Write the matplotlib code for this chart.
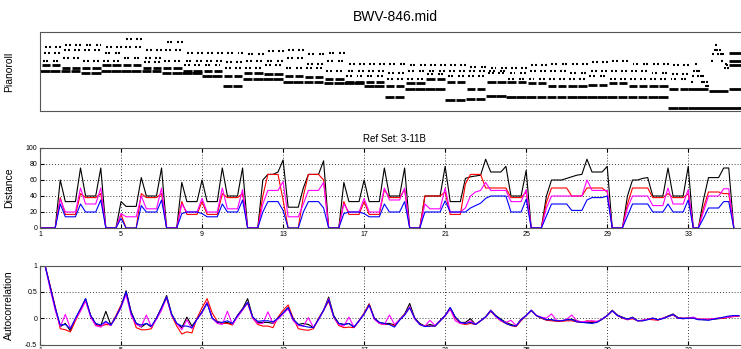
import matplotlib.pyplot as plt
import numpy as np

plt.rcParams['font.family'] = ['Liberation Sans', 'DejaVu Sans']

file_title = 'BWV-846.mid'
ref_title = 'Ref Set: 3-11B'

# five-note chord of each bar 1-32 (MIDI pitch), played as the broken-chord figure
chords = [
    [48, 52, 55, 60, 64], [48, 50, 57, 62, 65], [47, 50, 55, 62, 65], [48, 52, 55, 60, 64],
    [48, 52, 57, 64, 69], [48, 50, 54, 57, 62], [47, 50, 55, 62, 67], [47, 48, 52, 55, 60],
    [45, 48, 52, 55, 60], [38, 45, 50, 54, 60], [43, 47, 50, 55, 59], [43, 46, 52, 55, 61],
    [41, 45, 50, 57, 62], [41, 44, 50, 53, 59], [40, 43, 48, 55, 60], [40, 41, 45, 48, 53],
    [38, 41, 45, 48, 53], [31, 38, 43, 47, 53], [36, 40, 43, 48, 52], [36, 43, 46, 48, 52],
    [29, 41, 45, 48, 52], [30, 36, 45, 48, 51], [32, 41, 47, 48, 50], [31, 41, 43, 47, 50],
    [31, 40, 43, 48, 52], [31, 38, 43, 48, 53], [31, 38, 43, 47, 53], [31, 39, 45, 48, 54],
    [31, 40, 43, 48, 55], [31, 38, 43, 48, 53], [31, 38, 43, 47, 53], [24, 36, 43, 46, 52],
]
# closing bars: held notes (pitch, on, off) and the sixteenth runs of bars 33 and 34
coda_held = [(24, 33.0, 36.0), (36, 33.0, 34.0), (35, 34.0, 35.0),
             (36, 35.0, 36.0), (52, 35.0, 36.0), (55, 35.0, 36.0), (60, 35.0, 36.0)]
run_33 = [41, 45, 48, 53, 48, 45, 48, 45, 41, 45, 41, 38, 41, 38]
run_34 = [55, 59, 62, 65, 62, 59, 62, 59, 55, 59, 50, 53, 52, 50]

# distance to the reference set, one value per beat (bars 1 .. 35.25)
dist_black = [
    0, 0, 0, 0,   60, 33, 33, 33,   75, 40, 40, 40,   75, 0, 0, 0,
    33, 27, 27, 27,   63, 40, 40, 40,   75, 0, 0, 0,   57, 33, 33, 33,
    60, 33, 33, 33,   75, 40, 40, 40,   75, 0, 0, 0,   60, 67, 67, 70,
    85, 26, 26, 26,   50, 67, 67, 67,   84, 0, 0, 0,   57, 33, 33, 33,
    60, 33, 33, 33,   75, 40, 40, 40,   75, 0, 0, 0,   40, 40, 40, 40,
    77, 33, 33, 33,   62, 64, 65, 66,   86, 70, 70, 70,   77, 40, 40, 40,
    72, 0, 0, 0,   40, 60, 60, 60,   62, 64, 66, 67,   86, 70, 70, 70,
    77, 0, 0, 0,   40, 60, 60, 62,   63, 40, 40, 40,   75, 40, 40, 40,
    77, 0, 0, 35,   63, 63, 63, 75,   75, 0,
]
dist_red = [
    0, 0, 0, 0,   38, 17, 17, 17,   43, 38, 38, 38,   43, 0, 0, 0,
    17, 0, 0, 0,   43, 38, 38, 38,   43, 0, 0, 0,   33, 17, 17, 17,
    33, 17, 17, 17,   43, 38, 38, 38,   43, 0, 0, 0,   40, 67, 67, 67,
    35, 0, 0, 0,   40, 67, 67, 67,   60, 0, 0, 0,   33, 17, 17, 17,
    33, 17, 17, 17,   48, 38, 38, 38,   48, 0, 0, 0,   40, 40, 40, 40,
    45, 17, 17, 17,   55, 67, 67, 67,   50, 50, 50, 50,   50, 38, 38, 38,
    45, 0, 0, 0,   32, 50, 50, 50,   50, 40, 40, 40,   50, 50, 50, 50,
    45, 0, 0, 0,   30, 50, 50, 50,   50, 38, 38, 38,   43, 38, 38, 38,
    43, 0, 0, 25,   45, 45, 45, 43,   43, 0,
]
dist_magenta = [
    0, 0, 0, 0,   36, 20, 20, 20,   50, 30, 30, 30,   50, 0, 0, 0,
    18, 14, 14, 14,   40, 24, 24, 24,   50, 0, 0, 0,   30, 20, 20, 20,
    37, 20, 20, 20,   50, 24, 24, 24,   48, 0, 0, 0,   30, 47, 47, 47,
    58, 14, 14, 14,   30, 47, 47, 47,   57, 0, 0, 0,   30, 20, 20, 20,
    37, 20, 20, 20,   50, 35, 35, 35,   50, 0, 0, 0,   30, 24, 24, 24,
    50, 20, 20, 20,   25, 40, 45, 47,   57, 47, 47, 47,   47, 33, 33, 33,
    48, 0, 0, 0,   25, 40, 40, 40,   40, 40, 40, 40,   60, 47, 47, 47,
    47, 0, 0, 0,   25, 40, 40, 40,   40, 28, 28, 28,   50, 30, 30, 30,
    48, 0, 0, 20,   40, 40, 40, 49,   49, 0,
]
dist_blue = [
    0, 0, 0, 0,   30, 14, 14, 14,   30, 20, 20, 20,   35, 0, 0, 0,
    12, 0, 0, 0,   28, 20, 20, 20,   35, 0, 0, 0,   18, 20, 20, 20,
    18, 14, 14, 14,   30, 20, 20, 20,   35, 0, 0, 0,   20, 33, 33, 33,
    22, 0, 0, 0,   20, 33, 33, 33,   25, 0, 0, 0,   18, 20, 20, 20,
    18, 14, 14, 14,   30, 20, 20, 20,   33, 0, 0, 0,   20, 20, 20, 20,
    34, 20, 20, 20,   20, 25, 28, 31,   37, 40, 40, 40,   40, 20, 20, 20,
    36, 0, 0, 0,   15, 30, 30, 30,   30, 22, 22, 22,   35, 38, 38, 38,
    40, 0, 0, 0,   15, 30, 30, 30,   30, 20, 20, 20,   30, 20, 20, 20,
    35, 0, 0, 12,   25, 25, 25, 33,   33, 0,
]

# autocorrelation of each distance curve, lag 0 drawn at bar 1.25
acf_black = [
    1.0, 0.6, 0.2, -0.16,   -0.10, -0.24, -0.02, 0.17,   0.37, 0.05, -0.12, -0.14,
    0.13, -0.13, 0.02, 0.22,   0.52, 0.12, -0.10, -0.17,   -0.10, -0.17, 0.0, 0.2,
    0.43, 0.08, -0.10, -0.18,   0.02, -0.15, -0.02, 0.12,   0.30, 0.0, -0.08, -0.10,
    -0.08, -0.12, 0.05, 0.18,   0.37, 0.02, -0.08, -0.08,   -0.08, -0.10, 0.0, 0.10,
    0.20, -0.02, -0.12, -0.10,   -0.12, -0.18, -0.02, 0.15,   0.40, 0.05, -0.10, -0.12,
    -0.10, -0.17, -0.05, 0.08,   0.27, 0.0, -0.08, -0.10,   -0.10, -0.13, -0.03, 0.08,
    0.28, 0.0, -0.10, -0.15,   -0.12, -0.15, -0.05, 0.05,   0.20, 0.02, -0.08, -0.08,
    -0.01, -0.12, -0.05, 0.03,   0.15, 0.05, -0.02, -0.08,   -0.12, -0.15, -0.02, 0.05,
    0.15, 0.05, 0.0, -0.03,   -0.03, -0.05, -0.05, -0.03,   -0.02, -0.05, -0.08, -0.08,
    -0.08, -0.07, -0.02, 0.05,   0.15, 0.06, 0.02, -0.02,   0.02, -0.05, -0.04, -0.02,
    0.0, -0.03, 0.0, 0.04,   0.08, 0.01, 0.0, 0.0,   0.01, -0.02, -0.03, -0.03,
    -0.02, -0.01, 0.0, 0.02,   0.04, 0.04,
]
acf_red = [
    1.0, 0.62, 0.22, -0.20,   -0.22, -0.26, -0.05, 0.15,   0.33, 0.05, -0.14, -0.15,
    -0.12, -0.13, 0.05, 0.25,   0.47, 0.10, -0.18, -0.22,   -0.22, -0.20, 0.0, 0.20,
    0.38, 0.05, -0.15, -0.30,   -0.26, -0.28, 0.0, 0.20,   0.37, 0.10, -0.06, -0.10,
    -0.10, -0.13, 0.05, 0.18,   0.28, 0.0, -0.12, -0.15,   -0.15, -0.18, 0.02, 0.15,
    0.25, 0.0, -0.20, -0.22,   -0.23, -0.20, 0.0, 0.15,   0.32, 0.02, -0.14, -0.18,
    -0.17, -0.18, -0.05, 0.10,   0.27, 0.0, -0.10, -0.12,   -0.12, -0.14, -0.03, 0.07,
    0.20, 0.0, -0.12, -0.15,   -0.15, -0.15, -0.05, 0.05,   0.18, 0.0, -0.10, -0.12,
    -0.10, -0.12, -0.05, 0.02,   0.13, 0.03, -0.05, -0.10,   -0.14, -0.16, -0.05, 0.05,
    0.14, 0.05, 0.0, -0.04,   -0.05, -0.06, -0.06, -0.05,   -0.05, -0.07, -0.08, -0.05,
    -0.06, -0.07, -0.02, 0.05,   0.14, 0.05, 0.0, -0.03,   -0.01, -0.05, -0.05, -0.02,
    -0.03, -0.04, 0.0, 0.03,   0.06, 0.0, -0.01, 0.0,   0.0, -0.02, -0.02, -0.02,
    -0.01, 0.0, 0.0, 0.02,   0.03, 0.04,
]
acf_magenta = [
    1.0, 0.55, 0.15, -0.16,   0.07, -0.19, -0.02, 0.13,   0.33, 0.02, -0.14, -0.17,
    -0.08, -0.14, 0.02, 0.20,   0.45, 0.05, -0.12, -0.16,   0.06, -0.17, -0.02, 0.15,
    0.40, 0.05, -0.10, -0.22,   -0.03, -0.20, -0.02, 0.10,   0.30, 0.0, -0.10, -0.12,
    0.13, -0.12, 0.02, 0.15,   0.30, 0.0, -0.10, -0.10,   0.12, -0.10, -0.02, 0.08,
    0.18, -0.05, -0.14, -0.15,   0.01, -0.18, -0.03, 0.15,   0.37, 0.02, -0.12, -0.15,
    0.02, -0.17, -0.05, 0.08,   0.24, -0.02, -0.10, -0.12,   0.06, -0.12, -0.03, 0.06,
    0.22, -0.02, -0.12, -0.15,   -0.04, -0.14, -0.05, 0.04,   0.17, -0.05, -0.10, -0.10,
    -0.05, -0.12, -0.05, 0.02,   0.15, 0.03, -0.05, -0.08,   -0.04, -0.14, -0.03, 0.05,
    0.15, 0.05, 0.02, 0.0,   0.08, -0.04, -0.05, -0.02,   0.06, -0.05, -0.07, -0.06,
    -0.05, -0.06, -0.02, 0.05,   0.14, 0.05, 0.01, -0.03,   0.01, -0.05, -0.04, -0.02,
    0.0, -0.03, 0.0, 0.03,   0.07, 0.0, 0.0, 0.0,   0.02, -0.02, -0.02, -0.02,
    -0.01, 0.0, 0.01, 0.02,   0.04, 0.04,
]
acf_blue = [
    1.0, 0.6, 0.2, -0.13,   -0.12, -0.20, 0.0, 0.18,   0.37, 0.05, -0.10, -0.13,
    -0.06, -0.13, 0.03, 0.22,   0.50, 0.10, -0.10, -0.13,   -0.10, -0.15, 0.0, 0.20,
    0.40, 0.07, -0.10, -0.15,   -0.15, -0.18, -0.02, 0.12,   0.28, 0.0, -0.07, -0.08,
    -0.05, -0.10, 0.05, 0.17,   0.30, 0.02, -0.06, -0.05,   -0.05, -0.07, 0.0, 0.10,
    0.20, -0.02, -0.12, -0.15,   -0.17, -0.18, -0.02, 0.15,   0.35, 0.03, -0.10, -0.12,
    -0.10, -0.17, -0.05, 0.08,   0.25, 0.0, -0.08, -0.10,   -0.12, -0.17, -0.04, 0.06,
    0.20, 0.0, -0.12, -0.16,   -0.15, -0.15, -0.05, 0.05,   0.20, 0.02, -0.08, -0.10,
    -0.08, -0.12, -0.05, 0.02,   0.14, 0.04, -0.03, -0.10,   -0.14, -0.15, -0.03, 0.05,
    0.15, 0.05, 0.01, -0.03,   -0.03, -0.05, -0.05, -0.03,   -0.03, -0.07, -0.08, -0.09,
    -0.10, -0.08, -0.02, 0.05,   0.14, 0.05, 0.01, -0.02,   0.01, -0.05, -0.05, -0.03,
    0.0, -0.03, -0.01, 0.03,   0.07, 0.0, -0.01, 0.0,   0.0, -0.03, -0.03, -0.04,
    -0.02, 0.0, 0.02, 0.04,   0.05, 0.05,
]

dist_ticks = [0, 20, 40, 60, 80, 100]
acf_ticks = [-0.5, 0, 0.5, 1]
acf_tick_labels = ['-0.5', '0', '0.5', '1']
bar_ticks = [1, 5, 9, 13, 17, 21, 25, 29, 33]

series_colors = ['black', 'red', 'magenta', 'blue']

W, H = 741, 349
fig = plt.figure(figsize=(W / 100, H / 100), dpi=100)


def box(left, top, bottom, right=749):
    return [left / W, 1 - bottom / H, (right - left) / W, (bottom - top) / H]


ax_roll = fig.add_axes(box(40, 32, 111))
ax_dist = fig.add_axes(box(40, 148, 228))
ax_acf = fig.add_axes(box(40, 265.5, 344.5))

# ---- pianoroll ----
held, short = [], []
for bar, ch in enumerate(chords, start=1):
    for half in (0.0, 0.5):
        t0 = bar + half
        held.append((ch[0], t0, t0 + 0.5))
        held.append((ch[1], t0 + 1 / 16, t0 + 0.5))
        for k, p in enumerate(ch[2:]):
            for rep in (0, 3):
                s = t0 + (2 + k + rep) / 16
                short.append((p, s, s + 1 / 16))
for bar, run in ((33, run_33), (34, run_34)):
    for k, p in enumerate(run):
        s = bar + (2 + k) / 16
        short.append((p, s, s + 1 / 16))
held.extend(coda_held)

for p, s, e in held:
    ax_roll.hlines(p, s + 0.012, e - 0.012, color='black', lw=2.0)
for p, s, e in short:
    ax_roll.hlines(p, s, e + 0.035, color='black', lw=1.5)
ax_roll.set_xlim(1, 36)
ax_roll.set_ylim(21.8, 73.8)
ax_roll.set_xticks([])
ax_roll.set_yticks([])

# ---- distance ----
beats = 1 + 0.25 * np.arange(len(dist_black))
for vals, c in zip([dist_black, dist_red, dist_magenta, dist_blue], series_colors):
    ax_dist.plot(beats, vals, color=c, lw=0.8)
ax_dist.set_ylim(0, 100)
ax_dist.set_yticks(dist_ticks)
ax_dist.set_title(ref_title, fontsize=7, pad=4)

# ---- autocorrelation ----
lags = 1.25 + 0.25 * np.arange(len(acf_black))
for vals, c in zip([acf_black, acf_red, acf_magenta, acf_blue], series_colors):
    ax_acf.plot(lags, vals, color=c, lw=0.8)
ax_acf.set_ylim(-0.5, 1)
ax_acf.set_yticks(acf_ticks)
ax_acf.set_yticklabels(acf_tick_labels)

for ax in (ax_dist, ax_acf):
    ax.set_xlim(1, 36)
    ax.set_xticks(bar_ticks)
    ax.grid(True, color='black', linestyle=(0, (1, 2.5)), lw=0.6)
    ax.tick_params(direction='in', length=3, width=0.8, labelsize=5,
                   top=True, right=True, pad=2)

for ax in (ax_roll, ax_dist, ax_acf):
    for sp in ax.spines.values():
        sp.set_color('#555555')
        sp.set_linewidth(0.8)

ax_roll.set_ylabel('Pianoroll', fontsize=7.5)
ax_dist.set_ylabel('Distance', fontsize=7.5)
ax_acf.set_ylabel('Autocorrelation', fontsize=7.5)
for ax in (ax_roll, ax_dist, ax_acf):
    ax.yaxis.set_label_coords(-0.036, 0.5)

fig.text(395 / W, 1 - 17 / H, file_title, ha='center', va='center', fontsize=10)

fig.savefig('out.png', dpi=100)
